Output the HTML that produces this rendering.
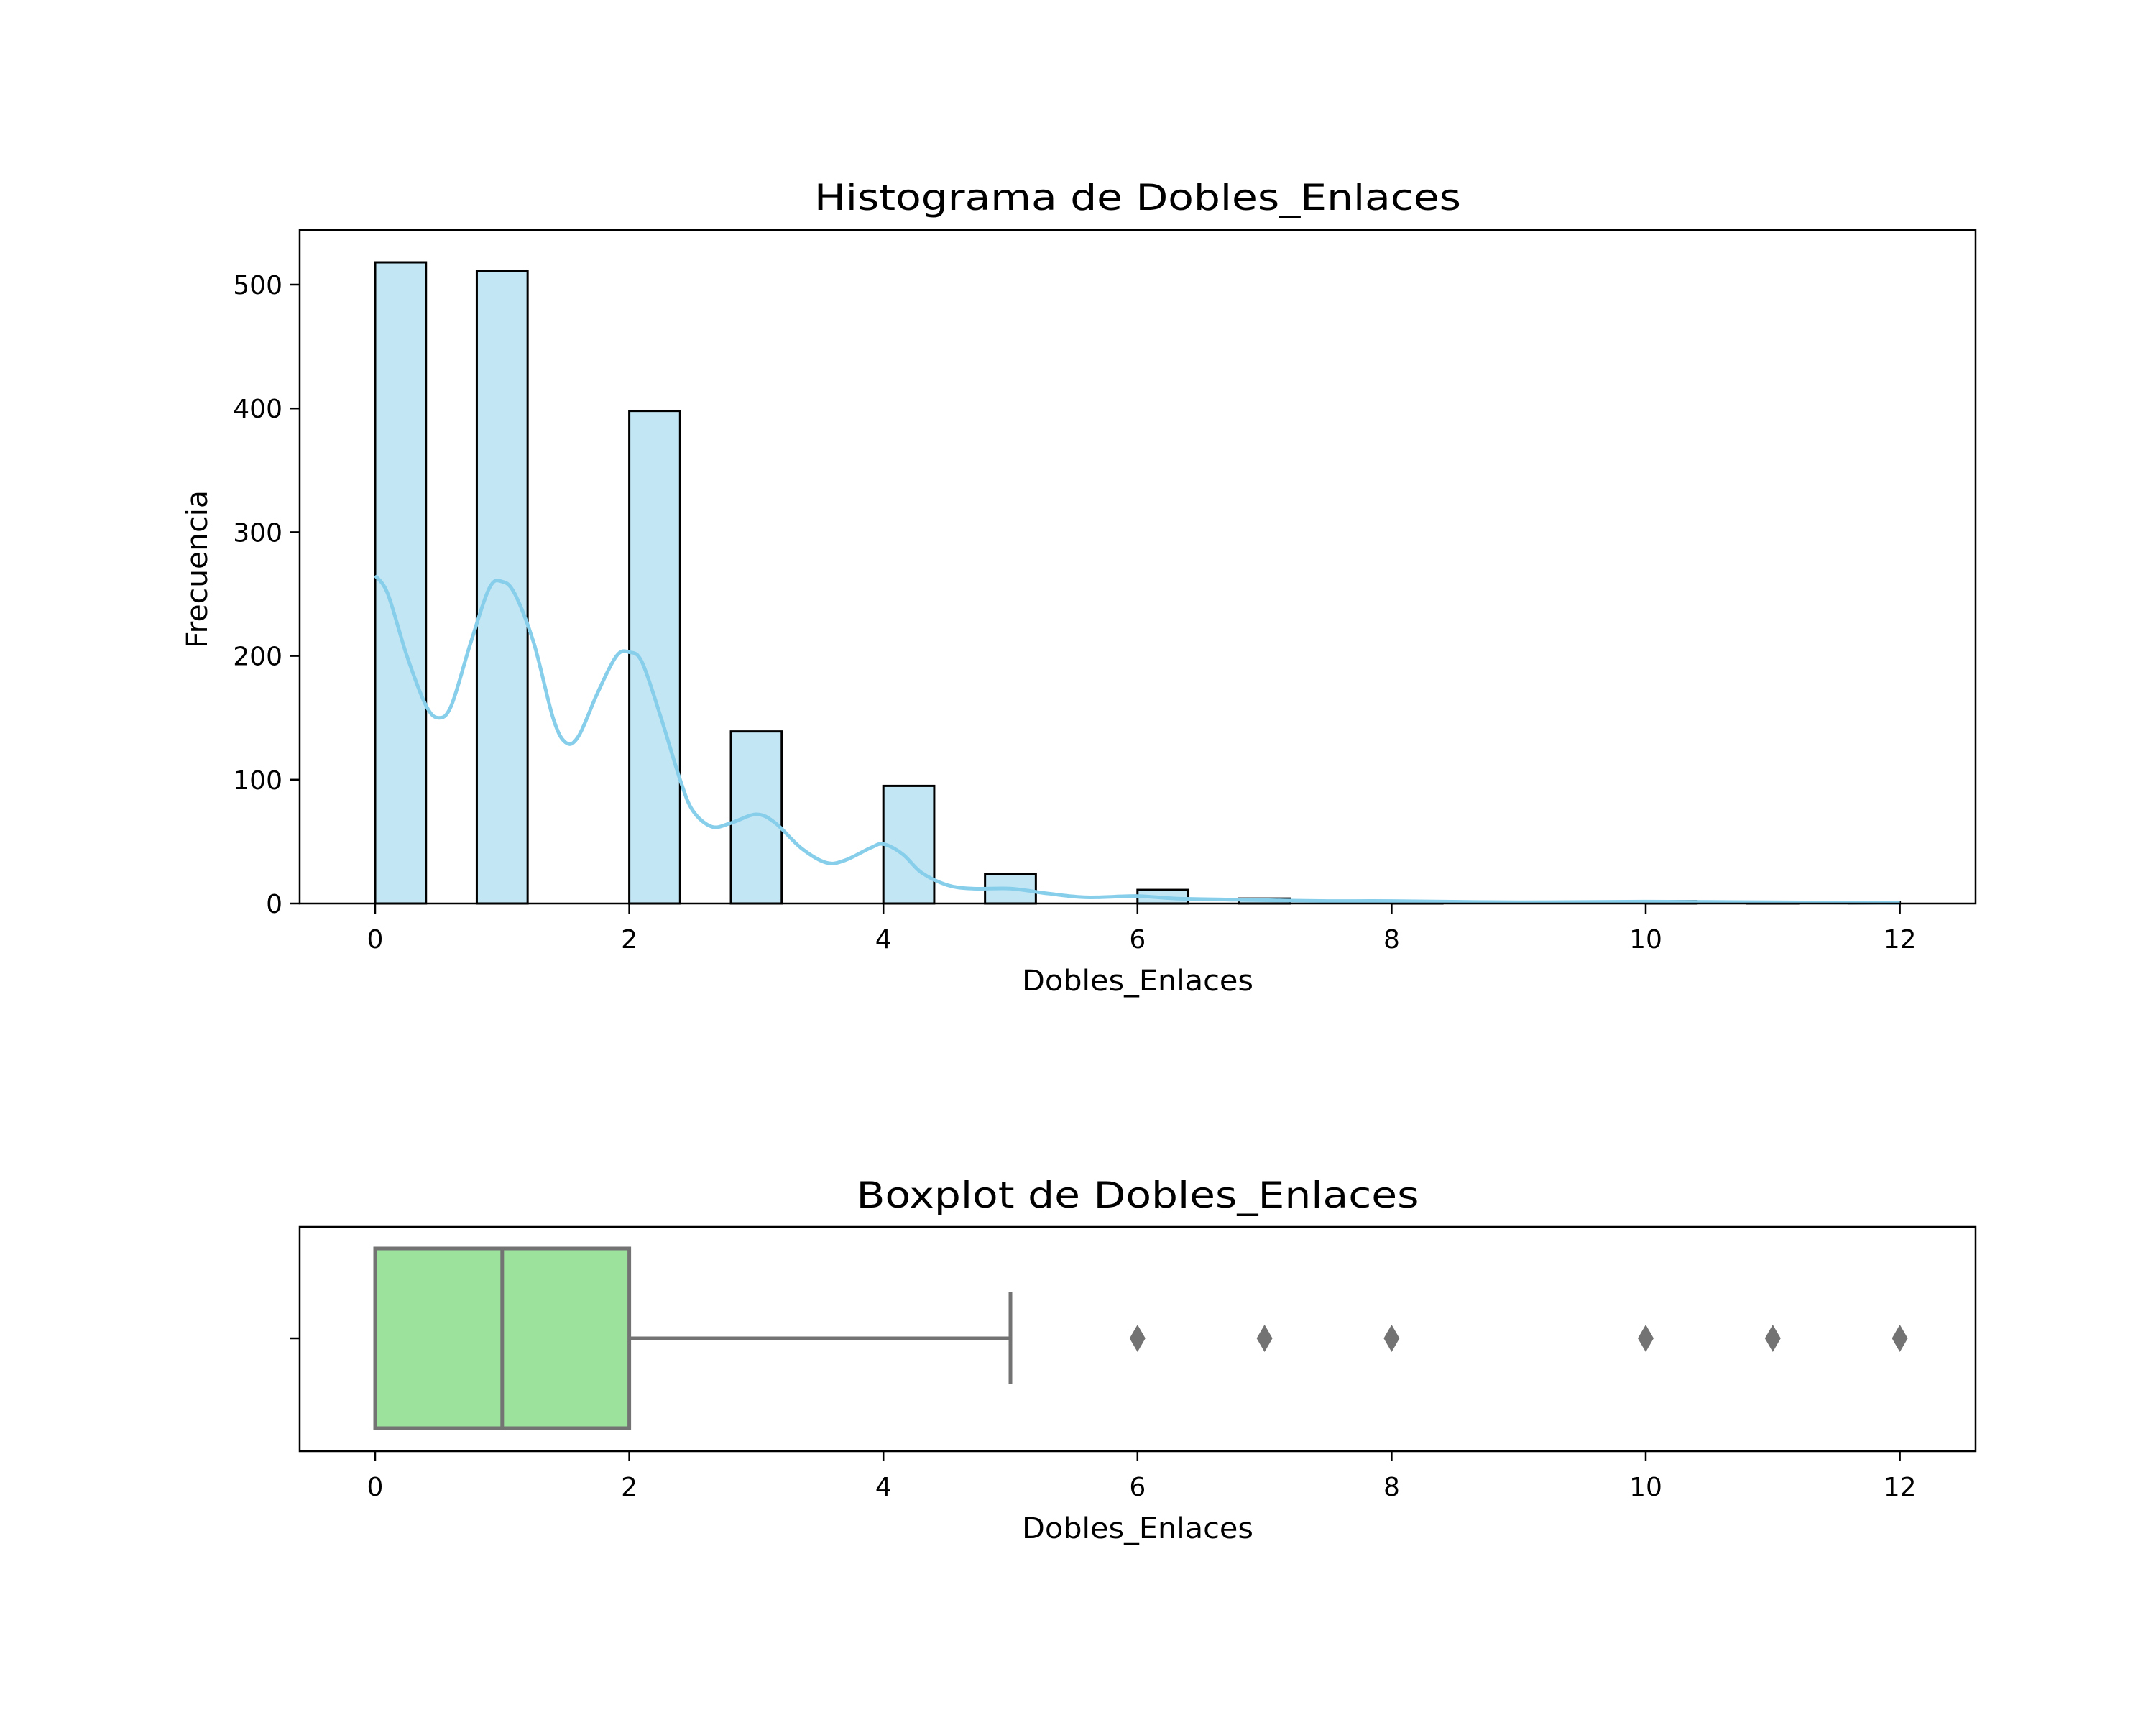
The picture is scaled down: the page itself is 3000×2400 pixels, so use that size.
<!DOCTYPE html>
<html><head><meta charset="utf-8"><style>
html,body{margin:0;padding:0;background:#fff;}
svg{display:block;font-family:"DejaVu Sans","Liberation Sans",sans-serif;}
</style></head>
<body>
<svg id="fig" width="3000" height="2400" viewBox="0 0 3000 2400" xmlns="http://www.w3.org/2000/svg">
<rect width="3000" height="2400" fill="#fff"/>
<g id="hist"></g>
<g id="box"></g>
</svg>
<script>
const binStarts = [0, 0.8, 2, 2.8, 4, 4.8, 6, 6.8, 8, 10, 10.8, 11.6];
const binCounts = [518, 511, 398, 139, 95, 24, 11, 4, 2, 2, 1, 1];
const binWidth = 0.4;
const kdeX = [0,0.1,0.25,0.4,0.5,0.6,0.75,0.9,1.0,1.1,1.25,1.4,1.5,1.6,1.75,1.9,2.0,2.1,2.25,2.4,2.5,2.65,2.8,3.0,3.15,3.35,3.55,3.7,3.9,4.0,4.15,4.3,4.5,4.7,5.0,5.3,5.6,6.0,6.3,6.8,7.5,8,9,10,11,12];
const kdeY = [265,250,200,160,150,160,210,255,260,250,210,150,130,135,170,200,203,195,150,100,75,62,65,72,65,45,33,35,45,48,40,25,15,12,12,8,5,6,4,3,2,2,1,1.5,1,0.5];
const xTicks = [0, 2, 4, 6, 8, 10, 12];
const yTicks = [0, 100, 200, 300, 400, 500];
const boxStats = {q1: 0, median: 1, q3: 2, whiskLo: 0, whiskHi: 5};
const fliers = [6, 7, 8, 10, 11, 12];

const NS = "http://www.w3.org/2000/svg";
function el(tag, attrs, parent, text){
  const e = document.createElementNS(NS, tag);
  for (const k in attrs) e.setAttribute(k, attrs[k]);
  if (text !== undefined) e.textContent = text;
  parent.appendChild(e);
  return e;
}
const L = 417, R = 2749;
const xs = v => 522 + v * 176.8;
const hT = 320, hB = 1257;
const ys = v => hB - v * 1.722;
const H = document.getElementById('hist');

binStarts.forEach((b, i) => {
  const r = el('rect', {x: xs(b), y: ys(binCounts[i]), width: xs(b + binWidth) - xs(b), height: hB - ys(binCounts[i]), fill: '#c3e6f4', stroke: '#000', 'stroke-width': 3}, H);
  
  
});
const pts = kdeX.map((x, i) => [xs(x), ys(kdeY[i])]);
let d = 'M' + pts[0][0].toFixed(1) + ' ' + pts[0][1].toFixed(1);
for (let i = 0; i < pts.length - 1; i++) {
  const p0 = pts[Math.max(0, i - 1)], p1 = pts[i], p2 = pts[i + 1], p3 = pts[Math.min(pts.length - 1, i + 2)];
  const c1 = [p1[0] + (p2[0] - p0[0]) / 6, p1[1] + (p2[1] - p0[1]) / 6];
  const c2 = [p2[0] - (p3[0] - p1[0]) / 6, p2[1] - (p3[1] - p1[1]) / 6];
  d += ` C${c1[0].toFixed(1)} ${c1[1].toFixed(1)} ${c2[0].toFixed(1)} ${c2[1].toFixed(1)} ${p2[0].toFixed(1)} ${p2[1].toFixed(1)}`;
}
const kp = el('path', {d: d, fill: 'none', stroke: '#87ceeb', 'stroke-width': 5, 'stroke-linejoin': 'round'}, H);



const hf = el('rect', {x: L, y: hT, width: R - L, height: hB - hT, fill: 'none', stroke: '#000', 'stroke-width': 2.5}, H);



xTicks.forEach(t => {
  el('line', {x1: xs(t), x2: xs(t), y1: hB, y2: hB + 14, stroke: '#000', 'stroke-width': 2.5}, H);
  const tx = el('text', {x: xs(t), y: hB + 62, 'text-anchor': 'middle', 'font-size': 36}, H, String(t));
  
  
});
yTicks.forEach(t => {
  el('line', {x1: L, x2: L - 14, y1: ys(t), y2: ys(t), stroke: '#000', 'stroke-width': 2.5}, H);
  const tx = el('text', {x: L - 24, y: ys(t) + 13, 'text-anchor': 'end', 'font-size': 36}, H, String(t));
  
  
});
const t1 = el('text', {x: 1583, y: 292, 'text-anchor': 'middle', 'font-size': 50, textLength: 900, lengthAdjust: 'spacingAndGlyphs'}, H, 'Histograma de Dobles_Enlaces');


const xl1 = el('text', {x: 1583, y: 1378, 'text-anchor': 'middle', 'font-size': 40, textLength: 322, lengthAdjust: 'spacingAndGlyphs'}, H, 'Dobles_Enlaces');


const yl = el('text', {x: 0, y: 0, 'text-anchor': 'middle', 'font-size': 40, textLength: 220, lengthAdjust: 'spacingAndGlyphs', transform: 'translate(288 792) rotate(-90)'}, H, 'Frecuencia');



const B = document.getElementById('box');
const bT = 1707, bB = 2019, bC = 1862, bh = 125, cap = 64;
const gray = '#737373';
const bx = el('rect', {x: xs(boxStats.q1), y: bC - bh, width: xs(boxStats.q3) - xs(boxStats.q1), height: 2 * bh, fill: '#9de29c', stroke: gray, 'stroke-width': 5}, B);


const md = el('line', {x1: xs(boxStats.median), x2: xs(boxStats.median), y1: bC - bh, y2: bC + bh, stroke: gray, 'stroke-width': 5}, B);


const wk = el('line', {x1: xs(boxStats.q3), x2: xs(boxStats.whiskHi), y1: bC, y2: bC, stroke: gray, 'stroke-width': 5}, B);


const cp = el('line', {x1: xs(boxStats.whiskHi), x2: xs(boxStats.whiskHi), y1: bC - cap, y2: bC + cap, stroke: gray, 'stroke-width': 5}, B);


fliers.forEach(f => {
  const x = xs(f);
  const p = el('path', {d: `M${x} ${bC-19} L${x+11} ${bC} L${x} ${bC+19} L${x-11} ${bC} Z`, fill: gray}, B);
  
  
});
const bf = el('rect', {x: L, y: bT, width: R - L, height: bB - bT, fill: 'none', stroke: '#000', 'stroke-width': 2.5}, B);


el('line', {x1: L, x2: L - 14, y1: bC, y2: bC, stroke: '#000', 'stroke-width': 2.5}, B);
xTicks.forEach(t => {
  el('line', {x1: xs(t), x2: xs(t), y1: bB, y2: bB + 14, stroke: '#000', 'stroke-width': 2.5}, B);
  const tx = el('text', {x: xs(t), y: bB + 62, 'text-anchor': 'middle', 'font-size': 36}, B, String(t));
  
  
});
const t2 = el('text', {x: 1583, y: 1680, 'text-anchor': 'middle', 'font-size': 50, textLength: 783, lengthAdjust: 'spacingAndGlyphs'}, B, 'Boxplot de Dobles_Enlaces');


const xl2 = el('text', {x: 1583, y: 2140, 'text-anchor': 'middle', 'font-size': 40, textLength: 322, lengthAdjust: 'spacingAndGlyphs'}, B, 'Dobles_Enlaces');


</script>
</body></html>
